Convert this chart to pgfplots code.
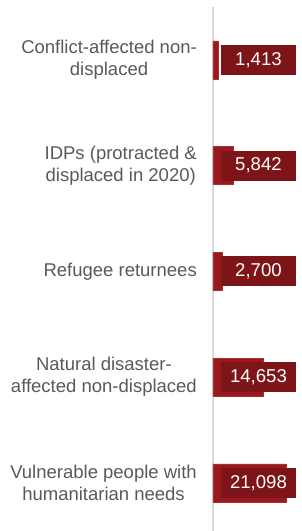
\documentclass[border=0pt]{standalone}
\usepackage{pgfplots}
\pgfplotsset{compat=1.18}
\usepackage{fontspec}
\setmainfont{Liberation Sans}
\definecolor{barred}{RGB}{152,26,30}
\definecolor{baredge}{RGB}{170,45,50}
\definecolor{boxred}{RGB}{125,20,23}
\definecolor{labgray}{RGB}{89,89,89}
\definecolor{axgray}{RGB}{217,217,217}
\begin{document}
\begin{tikzpicture}
\useasboundingbox (0,0) rectangle (301pt,531pt);
\begin{axis}[
  at={(213pt,0pt)}, anchor=south west,
  scale only axis, width=88pt, height=524pt,
  xmin=0, xmax=25433,
  ymin=-0.5, ymax=4.455, y dir=reverse,
  axis x line=none,
  axis y line*=left,
  axis line style={draw=axgray, line width=2pt},
  ytick={0,1,2,3,4},
  yticklabels={{Conflict-affected non-\\displaced},{IDPs (protracted \&\\displaced in 2020)},{Refugee returnees},{Natural disaster-\\affected non-displaced},{Vulnerable people with\\humanitarian needs}},
  major tick length=0pt,
  yticklabel style={align=center, anchor=east, inner sep=0pt, xshift=-16pt, text=labgray, font=\fontsize{18.5}{22}\selectfont},
  clip=false,
]
\addplot[xbar, bar width=38pt, fill=barred, draw=baredge, line width=0.6pt] coordinates {
  (1413,0) (5842,1) (2700,2) (14653,3) (21098,4)
};
\addplot[draw=none, mark=none, point meta=explicit symbolic,
  nodes near coords, nodes near coords align=center,
  every node near coord/.append style={fill=boxred, text=white, minimum width=75pt, minimum height=30pt, inner sep=0pt, font=\fontsize{18.6}{20}\selectfont, anchor=center}]
  coordinates {
  (13150,0) [1,413]
  (13150,1) [5,842]
  (13150,2) [2,700]
  (13150,3) [14,653]
  (13150,4) [21,098]
};
\end{axis}
\end{tikzpicture}
\end{document}
